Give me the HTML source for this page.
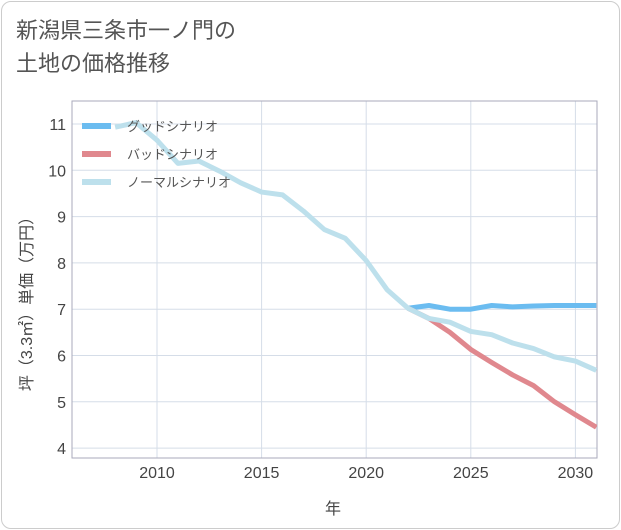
<!DOCTYPE html>
<html><head><meta charset="utf-8"><style>
body{margin:0;background:#fff;}
.card{position:absolute;left:1px;top:1px;width:617px;height:526px;border:1px solid #ccc;border-radius:10px;background:#fff;}
.title{position:absolute;left:16px;top:14px;font:22px "Liberation Sans","Noto Sans CJK JP",sans-serif;color:#555;line-height:33px;}
svg text{font-family:"Liberation Sans","Noto Sans CJK JP",sans-serif;}
</style></head><body>
<div class="card"></div>
<div class="title">新潟県三条市一ノ門の<br>土地の価格推移</div>
<svg id="c" width="621" height="530" style="position:absolute;left:0;top:0"></svg>
<script>
const years=[2008,2009,2010,2011,2012,2013,2014,2015,2016,2017,2018,2019,2020,2021,2022,2023,2024,2025,2026,2027,2028,2029,2030,2031];
const normal=[10.93,11.03,10.65,10.15,10.2,9.98,9.73,9.53,9.47,9.12,8.72,8.53,8.05,7.42,7.02,6.8,6.72,6.52,6.45,6.27,6.15,5.97,5.88,5.68];
const goodYears=[2022,2023,2024,2025,2026,2027,2028,2029,2030,2031];
const good=[7.02,7.08,7.0,7.0,7.08,7.05,7.07,7.08,7.08,7.08];
const bad=[7.02,6.8,6.5,6.13,5.85,5.58,5.35,5.0,4.72,4.45];
const xTicks=[2010,2015,2020,2025,2030];
const yTicks=[4,5,6,7,8,9,10,11];
const NS='http://www.w3.org/2000/svg',svg=document.getElementById('c');
const L=72,R=597,T=101,B=458;
const x=v=>157+(v-2010)*20.92;
const y=v=>124+(11-v)*46.3;
function mk(t,a){const e=document.createElementNS(NS,t);for(const k in a)e.setAttribute(k,a[k]);svg.appendChild(e);return e;}
for(const t of xTicks){const l=mk('line',{x1:x(t),x2:x(t),y1:T,y2:B,stroke:'#d5dde8','stroke-width':1});


const tx=mk('text',{x:x(t),y:478,'text-anchor':'middle','font-size':16,fill:'#444'});tx.textContent=t;

}
for(const t of yTicks){const l=mk('line',{x1:L,x2:R,y1:y(t),y2:y(t),stroke:'#d5dde8','stroke-width':1});


const tx=mk('text',{x:66,y:y(t)+6,'text-anchor':'end','font-size':16,fill:'#444'});tx.textContent=t;

}
const fr=mk('rect',{x:L,y:T,width:R-L,height:B-T,fill:'none',stroke:'#aab','stroke-width':1});


const cp=mk('clipPath',{id:'cp'});const cr=document.createElementNS(NS,'rect');cr.setAttribute('x',L);cr.setAttribute('y',T);cr.setAttribute('width',R-L);cr.setAttribute('height',B-T);cp.appendChild(cr);
function line(xs,ys,col,name){const p=mk('polyline',{points:xs.map((v,i)=>x(v)+','+y(ys[i])).join(' '),fill:'none',stroke:col,'stroke-width':5,'stroke-linejoin':'round','clip-path':'url(#cp)'});

}
line(goodYears,good,'#6bbcf0','good-scenario-line');
line(goodYears,bad,'#e0888e','bad-scenario-line');
line(years,normal,'#bde0ec','normal-scenario-line');
const leg=[['グッドシナリオ','#6bbcf0',126],['バッドシナリオ','#e0888e',154],['ノーマルシナリオ','#bde0ec',182]];
for(const [lab,col,yy] of leg){const r=mk('rect',{x:82,y:yy-3,width:29,height:6,fill:col});


const t=mk('text',{x:127,y:yy+5,'font-size':13,fill:'#555'});t.textContent=lab;

}
const xt=mk('text',{x:333,y:514,'text-anchor':'middle','font-size':16,fill:'#444'});xt.textContent='年';


const yt=mk('text',{x:0,y:0,'text-anchor':'middle','font-size':16,fill:'#444',transform:'translate(32,300) rotate(-90)'});yt.textContent='坪（3.3㎡）単価（万円）';


</script>
</body></html>
